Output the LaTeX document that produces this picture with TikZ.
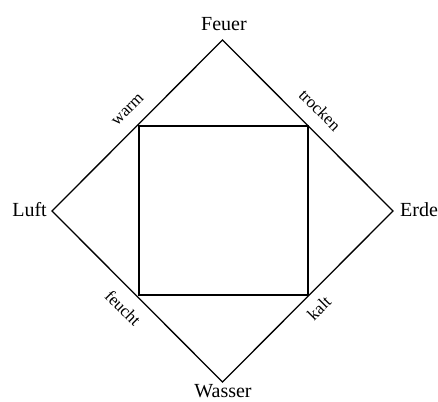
\documentclass[tikz,border=0pt]{standalone}
\usepackage{fontspec}
\setmainfont{Liberation Serif}
\tikzset{
  element/.style={font=\fontsize{20}{24}\selectfont, inner sep=0pt},
  quality/.style={font=\fontsize{17}{20}\selectfont, inner sep=0pt},
  edge/.style={line width=1.3pt, line join=miter}
}
\begin{document}
\begin{tikzpicture}[x=1pt,y=-1pt]
\useasboundingbox (0,0) rectangle (438,401);
% diamond vertices
\coordinate (T) at (222.5,40);
\coordinate (L) at (52,211);
\coordinate (B) at (222.5,382);
\coordinate (R) at (393,211);
% inner square corners (edge midpoints)
\coordinate (TL) at (139,126);
\coordinate (TR) at (308,126);
\coordinate (BR) at (308,295);
\coordinate (BL) at (139,295);
\draw[edge] (T) -- (R) -- (B) -- (L) -- cycle;
\draw[edge] (TL) -- (TR) -- (BR) -- (BL) -- cycle;
% element labels
\node[element] (feuer) at (224,24) {Feuer};
\node[element, anchor=east] (luft) at (47,210) {Luft};
\node[element, anchor=west] (erde) at (400,210) {Erde};
\node[element] (wasser) at (223,391) {Wasser};
% quality labels
\node[quality, rotate=45] (warm) at (128,110) {warm};
\node[quality, rotate=-45] (trocken) at (320,110) {trocken};
\node[quality, rotate=-45] (feucht) at (123,308) {feucht};
\node[quality, rotate=45] (kalt) at (319,308) {kalt};
\end{tikzpicture}
\end{document}
